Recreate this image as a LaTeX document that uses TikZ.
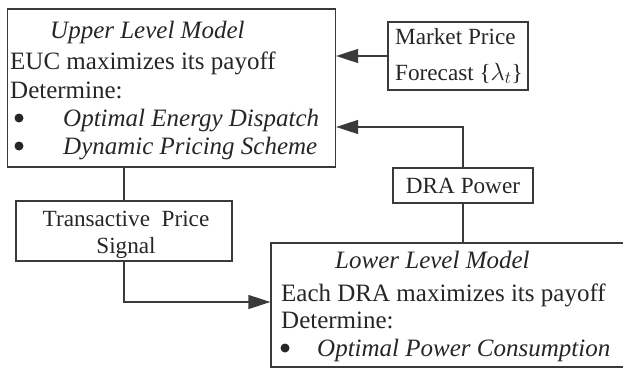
\documentclass[tikz,border=0pt]{standalone}
\usepackage{fontspec}
\setmainfont{Liberation Serif}
\usetikzlibrary{arrows.meta}
\definecolor{ln}{HTML}{3A3A3A}
\definecolor{tx}{HTML}{262626}
\begin{document}
\begin{tikzpicture}[x=1pt,y=-1pt,
  boxs/.style={draw=ln,line width=1.3pt,inner sep=0pt},
  big/.style={inner sep=0pt,anchor=base west,text=tx,font=\fontsize{25}{29}\selectfont},
  small/.style={inner sep=0pt,text=tx,font=\fontsize{23.2}{27}\selectfont},
  bul/.style={circle,fill=tx,inner sep=0pt,minimum size=9pt},
  conn/.style={draw=ln,line width=1.3pt},
  arr/.style={conn,-{Triangle[length=22pt,width=14pt]}}]
\useasboundingbox (0,0) rectangle (623,369);
\clip (0,0) rectangle (623,369);
% boxes
\node[boxs,minimum width=328pt,minimum height=158pt] (up) at (171.5,88) {};
\node[boxs,minimum width=140pt,minimum height=68pt] (mkt) at (458,56) {};
\node[boxs,minimum width=140pt,minimum height=35pt] (dra) at (463,185.5) {};
\node[boxs,minimum width=216pt,minimum height=60pt] (trs) at (124,231) {};
\node[boxs,minimum width=370pt,minimum height=124pt] (low) at (456,305) {};
% upper text
\node[big] (u1) at (50,38) {\itshape Upper Level Model};
\node[big] (u2) at (10,70) {EUC maximizes its payoff};
\node[big] (u3) at (10,98) {Determine:};
\node[bul] (u4b) at (19,118) {};
\node[big] (u4) at (63,126) {\itshape Optimal Energy Dispatch};
\node[bul] (u5b) at (19,146) {};
\node[big] (u5) at (63,154) {\itshape Dynamic Pricing Scheme};
% market
\node[small,anchor=base west] (m1) at (395,45) {Market Price};
\node[small,anchor=base west] (m2) at (395,80) {Forecast \{$\lambda_t$\}};
% dra
\node[small,anchor=base] (d1) at (463,193) {DRA Power};
% transactive
\node[small,anchor=base] (t1) at (126,226) {Transactive\ \ Price};
\node[small,anchor=base] (t2) at (126,253) {Signal};
% lower
\node[big] (l1) at (335,268) {\itshape Lower Level Model};
\node[big] (l2) at (281,301) {Each DRA maximizes its payoff};
\node[big] (l3) at (281,328) {Determine:};
\node[bul] (l4b) at (285,348) {};
\node[big] (l4) at (317,356) {\itshape Optimal Power Consumption};
% connectors
\coordinate (la) at (low.west |- 0,302);
\coordinate (ua) at (up.east |- 0,127);
\draw[conn] (up.south -| trs.north) -- (trs.north);
\draw[arr] (trs.south) |- (la);
\draw[arr] (mkt.west) -- (up.east |- mkt.west);
\draw[arr] (dra.north) |- (ua);
\draw[conn] (dra.south) -- (dra.south |- low.north);
\end{tikzpicture}
\end{document}
